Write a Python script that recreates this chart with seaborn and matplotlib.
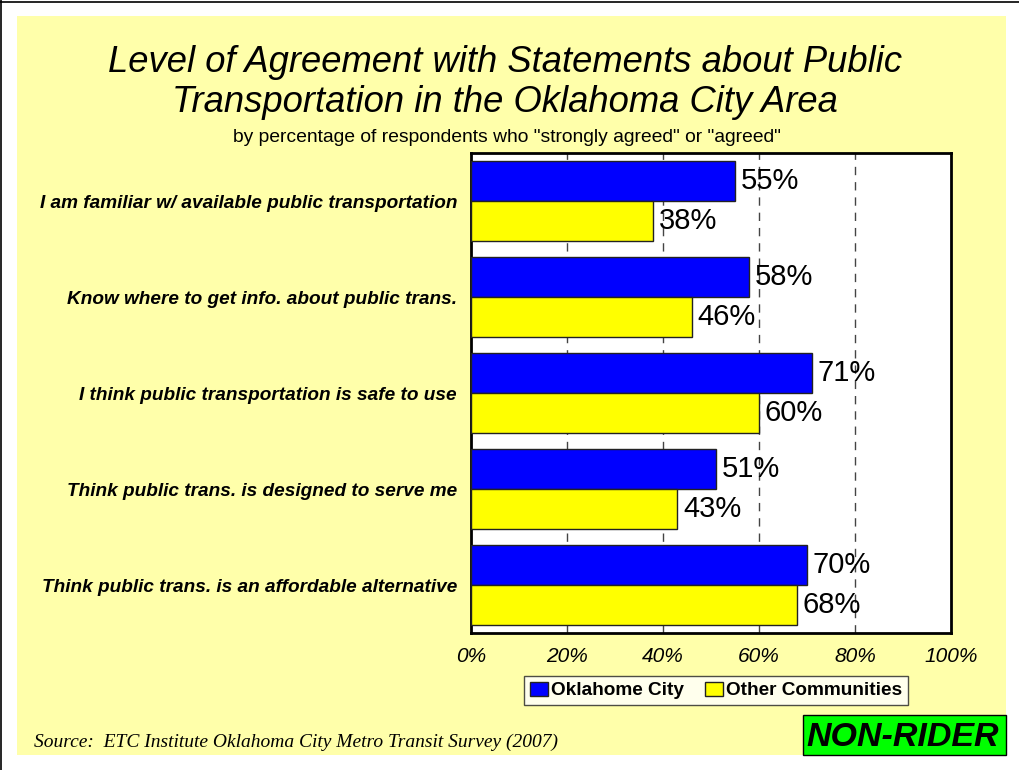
import numpy as np
import pandas as pd
import seaborn as sns
import matplotlib.pyplot as plt
from matplotlib.patches import Rectangle
from matplotlib.lines import Line2D

statements = [
    "I am familiar w/ available public transportation",
    "Know where to get info. about public trans.",
    "I think public transportation is safe to use",
    "Think public trans. is designed to serve me",
    "Think public trans. is an affordable alternative",
]
okc = [55, 58, 71, 51, 70]
other = [38, 46, 60, 43, 68]
groups = ["Oklahome City", "Other Communities"]
xticks = [0, 20, 40, 60, 80, 100]

df = pd.DataFrame({
    "statement": statements * 2,
    "group": [groups[0]] * 5 + [groups[1]] * 5,
    "pct": okc + other,
})

sns.set_theme(style="white")
plt.rcParams["font.family"] = ["Liberation Sans", "DejaVu Sans"]
plt.rcParams["text.color"] = "black"
plt.rcParams["xtick.color"] = "black"
plt.rcParams["ytick.color"] = "black"
plt.rcParams["axes.labelcolor"] = "black"

bg = "#FFFFAA"
fig = plt.figure(figsize=(10.2, 7.7), dpi=100)
fig.patch.set_facecolor("white")

# yellow slide area + thin frame on top/left
fig.patches.append(Rectangle((17 / 1020, 1 - 755 / 770), (1006 - 17) / 1020, (755 - 16) / 770,
                             transform=fig.transFigure, facecolor=bg, edgecolor="none", zorder=-10))
fig.lines.append(Line2D([0, 1], [1 - 1.5 / 770] * 2, transform=fig.transFigure, color="black", lw=1.2))
fig.lines.append(Line2D([1.5 / 1020] * 2, [0, 1], transform=fig.transFigure, color="black", lw=1.2))

ax = fig.add_axes([471 / 1020, 1 - 633 / 770, 480 / 1020, 480 / 770])
ax.set_facecolor("white")

sns.barplot(data=df, x="pct", y="statement", hue="group", orient="h",
            palette=["#0000FF", "#FFFF00"], edgecolor="#222222", linewidth=1,
            width=0.84, saturation=1, ax=ax, zorder=3)

for cont in ax.containers:
    ax.bar_label(cont, fmt="%d%%", padding=4, fontsize=21)

ax.set_xlim(0, 100)
ax.set_ylim(4.5, -0.5)
ax.set_xticks(xticks)
ax.set_xticklabels([f"{t}%" for t in xticks], fontsize=15, style="italic")
ax.tick_params(axis="x", direction="in", length=6, pad=10, color="#444444")
ax.tick_params(axis="y", length=0, pad=10)
for lab in ax.get_yticklabels():
    lab.set_fontsize(13.7)
    lab.set_fontweight("bold")
    lab.set_style("italic")
ax.set_xlabel("")
ax.set_ylabel("")

for x in xticks[1:-1]:
    ax.axvline(x, color="#444444", lw=1, ls=(0, (6, 5)), zorder=1)

for s in ax.spines.values():
    s.set_color("black")
    s.set_linewidth(2)

handles, labels = ax.get_legend_handles_labels()
ax.legend_.remove()
leg = fig.legend(handles, labels, loc="center", bbox_to_anchor=(716 / 1020, 1 - 690.5 / 770),
                 ncol=2, frameon=True, fancybox=False, edgecolor="#222222",
                 prop={"weight": "bold", "size": 13.7}, handlelength=0.95, handleheight=0.8,
                 handletextpad=0.15, columnspacing=1.1, borderpad=0.3, borderaxespad=0)
leg.get_frame().set_linewidth(1)

fig.text(505 / 1020, 1 - 62 / 770, "Level of Agreement with Statements about Public",
         ha="center", va="center", fontsize=26.2, style="italic")
fig.text(505 / 1020, 1 - 103 / 770, "Transportation in the Oklahoma City Area",
         ha="center", va="center", fontsize=26.2, style="italic")
fig.text(507 / 1020, 1 - 137 / 770,
         'by percentage of respondents who "strongly agreed" or "agreed"',
         ha="center", va="center", fontsize=13.9)

fig.text(34 / 1020, 1 - 742 / 770,
         "Source:  ETC Institute Oklahoma City Metro Transit Survey (2007)",
         ha="left", va="center", fontsize=14, style="italic",
         family=["Liberation Serif", "DejaVu Serif"])

fig.patches.append(Rectangle((803 / 1020, 1 - 755 / 770), 203 / 1020, 40 / 770,
                             transform=fig.transFigure, facecolor="#00FF00",
                             edgecolor="black", lw=1, zorder=5))
fig.text(903 / 1020, 1 - 737 / 770, "NON-RIDER", ha="center", va="center",
         fontsize=24.5, fontweight="bold", style="italic", zorder=6)

fig.savefig("out.png", dpi=100, facecolor=fig.get_facecolor())
